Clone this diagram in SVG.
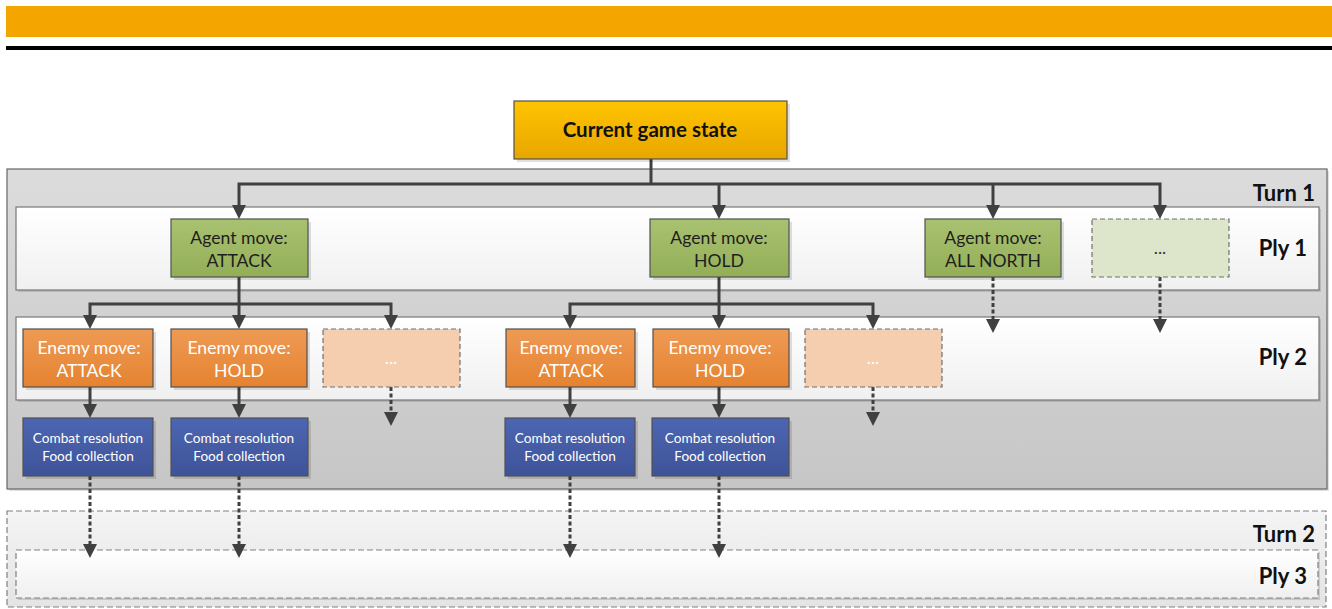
<svg xmlns="http://www.w3.org/2000/svg" width="1332" height="609" viewBox="0 0 1332 609">
<defs>
<linearGradient id="gY" x1="0" y1="0" x2="0" y2="1"><stop offset="0" stop-color="#FFC400"/><stop offset="1" stop-color="#E8A600"/></linearGradient>
<linearGradient id="gG" x1="0" y1="0" x2="0" y2="1"><stop offset="0" stop-color="#A9C272"/><stop offset="1" stop-color="#93AE57"/></linearGradient>
<linearGradient id="gO" x1="0" y1="0" x2="0" y2="1"><stop offset="0" stop-color="#EE9A55"/><stop offset="1" stop-color="#E5832F"/></linearGradient>
<linearGradient id="gB" x1="0" y1="0" x2="0" y2="1"><stop offset="0" stop-color="#4D66B2"/><stop offset="1" stop-color="#3E5398"/></linearGradient>
<linearGradient id="gT" x1="0" y1="0" x2="0" y2="1"><stop offset="0" stop-color="#DCDCDC"/><stop offset="1" stop-color="#C6C6C6"/></linearGradient>
<linearGradient id="gW" x1="0" y1="0" x2="0" y2="1"><stop offset="0" stop-color="#FFFFFF"/><stop offset="1" stop-color="#F0F0F0"/></linearGradient>
<linearGradient id="gT2" x1="0" y1="0" x2="0" y2="1"><stop offset="0" stop-color="#F4F4F4"/><stop offset="1" stop-color="#E4E4E4"/></linearGradient>
</defs>
<style>
.node rect.box{stroke:#505050;stroke-width:1.2}
.sh{fill:#000;opacity:0.12}
.dash{stroke:#707070;stroke-width:1.2;stroke-dasharray:5 3}
text{font-family:Lato,"Open Sans","Liberation Sans",sans-serif}
.t{font-size:17.6px;text-anchor:middle}
.dark{fill:#1e1e1e}
.white{fill:#FFFFFF}
.small{font-size:13.6px;text-anchor:middle;fill:#FFFFFF}
.lbl{font-size:22px;font-weight:bold;text-anchor:end;fill:#111}
.c{fill:none;stroke:#404040;stroke-width:3}
.cd{fill:none;stroke:#404040;stroke-width:3;stroke-dasharray:4 2.5}
.ah{fill:#404040}
</style>

<rect x="6" y="6" width="1326" height="31" fill="#F5A500"/>
<rect x="6" y="46" width="1326" height="4" fill="#000"/>

<g id="turn1">
<rect x="9" y="171" width="1320" height="320" class="sh"/>
<rect x="7" y="169" width="1320" height="320" fill="url(#gT)" stroke="#666" stroke-width="1.2"/>
<text x="1315" y="201" class="lbl">Turn 1</text>
</g>
<g id="ply1">
<rect x="18" y="209" width="1303" height="83" class="sh"/>
<rect x="16" y="207" width="1303" height="83" fill="url(#gW)" stroke="#777" stroke-width="1.2"/>
<text x="1307" y="256" class="lbl">Ply 1</text>
</g>
<g id="ply2">
<rect x="18" y="319" width="1303" height="83" class="sh"/>
<rect x="16" y="317" width="1303" height="83" fill="url(#gW)" stroke="#777" stroke-width="1.2"/>
<text x="1307" y="365" class="lbl">Ply 2</text>
</g>
<g id="turn2">
<rect x="7" y="511" width="1319" height="96" fill="url(#gT2)" stroke="#808080" stroke-width="1.2" stroke-dasharray="6 3"/>
<text x="1315" y="542" class="lbl">Turn 2</text>
</g>
<g id="ply3">
<rect x="18" y="552" width="1302" height="48" class="sh"/>
<rect x="16" y="550" width="1302" height="48" fill="url(#gW)" stroke="#808080" stroke-width="1.2" stroke-dasharray="6 3"/>
<text x="1307" y="584" class="lbl">Ply 3</text>
</g>

<g id="connectors">
<path class="c" d="M651,159 V184"/>
<path class="c" d="M239,205 V184 H1160 V205"/>
<path class="c" d="M719,184 V205"/>
<path class="c" d="M993,184 V205"/>
<path class="c" d="M239,277 V304"/>
<path class="c" d="M90,315 V304 H391 V315"/>
<path class="c" d="M239,304 V315"/>
<path class="c" d="M719,277 V304"/>
<path class="c" d="M570,315 V304 H873 V315"/>
<path class="c" d="M719,304 V315"/>
<path class="c" d="M90,387 V404"/>
<path class="c" d="M239,387 V404"/>
<path class="c" d="M570,387 V404"/>
<path class="c" d="M719,387 V404"/>
<path class="cd" d="M993,277 V319"/>
<path class="cd" d="M1160,277 V319"/>
<path class="cd" d="M391,387 V412"/>
<path class="cd" d="M873,387 V412"/>
<path class="cd" d="M90,476 V544"/>
<path class="cd" d="M239,476 V544"/>
<path class="cd" d="M570,476 V544"/>
<path class="cd" d="M719,476 V544"/>
<g class="ah">
<path d="M232,205 H246 L239,219 Z"/>
<path d="M712,205 H726 L719,219 Z"/>
<path d="M986,205 H1000 L993,219 Z"/>
<path d="M1153,205 H1167 L1160,219 Z"/>
<path d="M83,315 H97 L90,329 Z"/>
<path d="M232,315 H246 L239,329 Z"/>
<path d="M384,315 H398 L391,329 Z"/>
<path d="M563,315 H577 L570,329 Z"/>
<path d="M712,315 H726 L719,329 Z"/>
<path d="M866,315 H880 L873,329 Z"/>
<path d="M83,404 H97 L90,418 Z"/>
<path d="M232,404 H246 L239,418 Z"/>
<path d="M563,404 H577 L570,418 Z"/>
<path d="M712,404 H726 L719,418 Z"/>
<path d="M986,319 H1000 L993,333 Z"/>
<path d="M1153,319 H1167 L1160,333 Z"/>
<path d="M384,412 H398 L391,426 Z"/>
<path d="M866,412 H880 L873,426 Z"/>
<path d="M83,544 H97 L90,558 Z"/>
<path d="M232,544 H246 L239,558 Z"/>
<path d="M563,544 H577 L570,558 Z"/>
<path d="M712,544 H726 L719,558 Z"/>
</g>
</g>

<g id="current" class="node">
<rect x="517" y="104" width="273" height="58" class="sh"/>
<rect x="514" y="101" width="273" height="58" fill="url(#gY)" class="box"/>
<text x="650" y="137" style="font-size:20.5px;font-weight:bold;text-anchor:middle" fill="#111">Current game state</text>
</g>

<g id="agent-attack" class="node">
<rect x="174" y="222" width="137" height="58" class="sh"/>
<rect x="171" y="219" width="137" height="58" fill="url(#gG)" class="box"/>
<text x="239" y="244" class="t dark">Agent move:</text>
<text x="239" y="267" class="t dark">ATTACK</text>
</g>
<g id="agent-hold" class="node">
<rect x="653" y="222" width="139" height="58" class="sh"/>
<rect x="650" y="219" width="139" height="58" fill="url(#gG)" class="box"/>
<text x="719" y="244" class="t dark">Agent move:</text>
<text x="719" y="267" class="t dark">HOLD</text>
</g>
<g id="agent-north" class="node">
<rect x="928" y="222" width="136" height="58" class="sh"/>
<rect x="925" y="219" width="136" height="58" fill="url(#gG)" class="box"/>
<text x="993" y="244" class="t dark">Agent move:</text>
<text x="993" y="267" class="t dark">ALL NORTH</text>
</g>
<g id="agent-more" class="node">
<rect x="1092" y="219" width="137" height="58" fill="#DDE5CB" class="dash"/>
<text x="1160" y="254" class="t" fill="#333">...</text>
</g>

<g id="enemy-attack-1" class="node">
<rect x="26" y="332" width="130" height="58" class="sh"/>
<rect x="23" y="329" width="130" height="58" fill="url(#gO)" class="box"/>
<text x="89" y="354" class="t white">Enemy move:</text>
<text x="89" y="377" class="t white">ATTACK</text>
</g>
<g id="enemy-hold-1" class="node">
<rect x="174" y="332" width="136" height="58" class="sh"/>
<rect x="171" y="329" width="136" height="58" fill="url(#gO)" class="box"/>
<text x="239" y="354" class="t white">Enemy move:</text>
<text x="239" y="377" class="t white">HOLD</text>
</g>
<g id="enemy-more-1" class="node">
<rect x="323" y="329" width="137" height="58" fill="#F5CEB0" class="dash"/>
<text x="391" y="364" class="t" fill="#FFFFFF">...</text>
</g>
<g id="enemy-attack-2" class="node">
<rect x="509" y="332" width="129" height="58" class="sh"/>
<rect x="506" y="329" width="129" height="58" fill="url(#gO)" class="box"/>
<text x="571" y="354" class="t white">Enemy move:</text>
<text x="571" y="377" class="t white">ATTACK</text>
</g>
<g id="enemy-hold-2" class="node">
<rect x="656" y="332" width="136" height="58" class="sh"/>
<rect x="653" y="329" width="136" height="58" fill="url(#gO)" class="box"/>
<text x="720" y="354" class="t white">Enemy move:</text>
<text x="720" y="377" class="t white">HOLD</text>
</g>
<g id="enemy-more-2" class="node">
<rect x="805" y="329" width="137" height="58" fill="#F5CEB0" class="dash"/>
<text x="873" y="364" class="t" fill="#FFFFFF">...</text>
</g>

<g id="combat-1" class="node">
<rect x="26" y="421" width="130" height="58" class="sh"/>
<rect x="23" y="418" width="130" height="58" fill="url(#gB)" class="box"/>
<text x="88" y="443" class="small">Combat resolution</text>
<text x="88" y="461" class="small">Food collection</text>
</g>
<g id="combat-2" class="node">
<rect x="174" y="421" width="137" height="58" class="sh"/>
<rect x="171" y="418" width="137" height="58" fill="url(#gB)" class="box"/>
<text x="239" y="443" class="small">Combat resolution</text>
<text x="239" y="461" class="small">Food collection</text>
</g>
<g id="combat-3" class="node">
<rect x="508" y="421" width="130" height="58" class="sh"/>
<rect x="505" y="418" width="130" height="58" fill="url(#gB)" class="box"/>
<text x="570" y="443" class="small">Combat resolution</text>
<text x="570" y="461" class="small">Food collection</text>
</g>
<g id="combat-4" class="node">
<rect x="655" y="421" width="137" height="58" class="sh"/>
<rect x="652" y="418" width="137" height="58" fill="url(#gB)" class="box"/>
<text x="720" y="443" class="small">Combat resolution</text>
<text x="720" y="461" class="small">Food collection</text>
</g>
</svg>
